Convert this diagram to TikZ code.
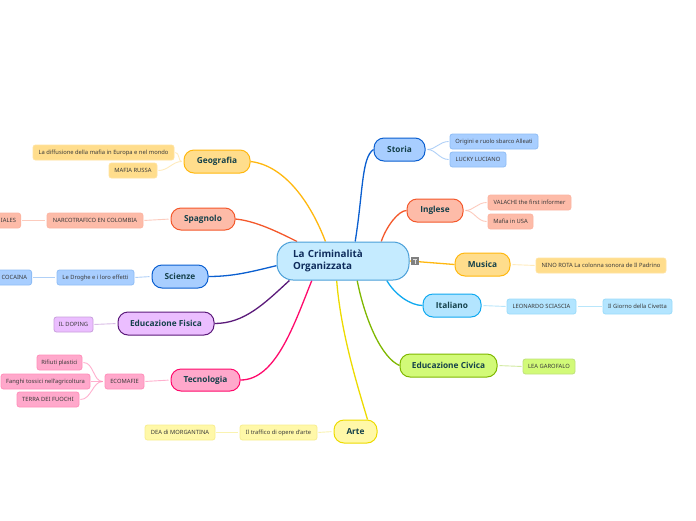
\documentclass[tikz,border=0pt]{standalone}
\usepackage{fontspec}
\setmainfont{Noto Sans}
\newfontfamily\bfam{Open Sans}
\usetikzlibrary{backgrounds}
\definecolor{ybf}{HTML}{FFDD8C}\definecolor{ybs}{HTML}{FFB80F}\definecolor{ybl}{HTML}{FFE3A0}
\definecolor{rdf}{HTML}{FDBBA8}\definecolor{rds}{HTML}{F4582B}\definecolor{rdl}{HTML}{FCB5A2}
\definecolor{blf}{HTML}{A8CEFF}\definecolor{bls}{HTML}{0A5FD0}\definecolor{bll}{HTML}{8FBDF5}
\definecolor{puf}{HTML}{EBBEFF}\definecolor{pus}{HTML}{5B1A7A}\definecolor{pul}{HTML}{C9A0DC}
\definecolor{pkf}{HTML}{FFA8CB}\definecolor{pks}{HTML}{FF0A6C}\definecolor{pkl}{HTML}{FF8FBA}
\definecolor{lyf}{HTML}{FFF8A8}\definecolor{lys}{HTML}{EDDB00}\definecolor{lyl}{HTML}{F8EE90}
\definecolor{cyf}{HTML}{B3E5FF}\definecolor{cys}{HTML}{0FA9F0}\definecolor{cyl}{HTML}{9BDCFA}
\definecolor{grf}{HTML}{D2FA78}\definecolor{grs}{HTML}{7FB800}\definecolor{grl}{HTML}{BFE27A}
\definecolor{cef}{HTML}{C5EBFF}\definecolor{ces}{HTML}{4A9FD8}
\definecolor{tmain}{HTML}{14404A}\definecolor{tcen}{HTML}{0F2C5C}\definecolor{tsub}{HTML}{3A3A3A}
\tikzset{
 x=1pt,y=-1pt,
 mainbox/.style={draw,line width=1pt,rounded corners=10pt,inner sep=0pt,font=\bfam\fontsize{8.3}{10}\selectfont\bfseries,text=tmain},
 subbox/.style={draw,line width=.8pt,rounded corners=2.5pt,inner sep=0pt,font=\fontsize{5.8}{7}\selectfont,text=tsub},
 cedge/.style={line width=1.3pt},
 sedge/.style={line width=.9pt,opacity=.7,shorten <=2pt,shorten >=1pt},
}
\newcommand{\bx}[7]{% name x1 y1 x2 y2 style text
 \pgfmathsetmacro{\bcx}{(#2+#4)/2}\pgfmathsetmacro{\bcy}{(#3+#5)/2}
 \pgfmathsetmacro{\bw}{#4-#2}\pgfmathsetmacro{\bh}{#5-#3}
 \node[#6,minimum width=\bw pt,minimum height=\bh pt] (#1) at (\bcx,\bcy) {#7};}
\begin{document}
\begin{tikzpicture}
\useasboundingbox (0,0) rectangle (696,520);
% central
\node[draw=ces,fill=cef,line width=1pt,rounded corners=16pt,inner sep=0pt,text width=100pt,minimum height=38pt,inner xsep=16pt,align=left,text=tcen,font=\bfam\fontsize{9.85}{12}\selectfont\bfseries] (central) at (343,261) {La Criminalità\\Organizzata};
% main
\bx{geo}{184}{150}{250}{173}{mainbox,draw=ybs,fill=ybf}{Geografia}
\bx{spa}{171}{208}{235}{230}{mainbox,draw=rds,fill=rdf}{Spagnolo}
\bx{sci}{152}{265}{208}{288}{mainbox,draw=bls,fill=blf}{Scienze}
\bx{edf}{118}{312}{214}{335}{mainbox,draw=pus,fill=puf}{Educazione Fisica}
\bx{tec}{171}{369}{240}{391}{mainbox,draw=pks,fill=pkf}{Tecnologia}
\bx{art}{334}{420}{377}{443}{mainbox,draw=lys,fill=lyf}{Arte}
\bx{sto}{374}{138}{425}{161}{mainbox,draw=bls,fill=blf}{Storia}
\bx{ing}{407}{199}{463}{222}{mainbox,draw=rds,fill=rdf}{Inglese}
\bx{mus}{455}{253}{510}{276}{mainbox,draw=ybs,fill=ybf}{Musica}
\bx{ita}{423}{294}{481}{317}{mainbox,draw=cys,fill=cyf}{Italiano}
\bx{edc}{400}{354}{497}{377}{mainbox,draw=grs,fill=grf}{Educazione Civica}
% sub
\bx{dif}{33}{145}{174}{160}{subbox,draw=ybl,fill=ybf}{La diffusione della mafia in Europa e nel mondo}
\bx{rus}{109}{163}{157}{178}{subbox,draw=ybl,fill=ybf}{MAFIA RUSSA}
\bx{nar}{47}{213}{143}{228}{subbox,draw=rdl,fill=rdf}{NARCOTRAFICO EN COLOMBIA}
\node[subbox,draw=rdl,fill=rdf,anchor=east,minimum height=15pt,text width=52pt,inner xsep=4.5pt,align=right] (ial) at (21,220.5) {IALES};
\bx{dro}{57}{270}{134}{285}{subbox,draw=bll,fill=blf}{Le Droghe e i loro effetti}
\node[subbox,draw=bll,fill=blf,anchor=east,minimum height=15pt,text width=52pt,inner xsep=4.5pt,align=right] (coc) at (32,277.5) {COCAINA};
\bx{dop}{54}{317}{93}{332}{subbox,draw=pul,fill=puf}{IL DOPING}
\bx{eco}{105}{374}{144}{389}{subbox,draw=pkl,fill=pkf}{ECOMAFIE}
\bx{rif}{37}{355}{82}{370}{subbox,draw=pkl,fill=pkf}{Rifiuti plastici}
\bx{fan}{1}{374}{90}{389}{subbox,draw=pkl,fill=pkf}{Fanghi tossici nell'agricoltura}
\bx{ter}{17}{392}{79}{407}{subbox,draw=pkl,fill=pkf}{TERRA DEI FUOCHI}
\bx{dea}{145}{425}{215}{440}{subbox,draw=lyl,fill=lyf}{DEA di MORGANTINA}
\bx{tra}{240}{425}{317}{440}{subbox,draw=lyl,fill=lyf}{Il traffico di opere d'arte}
\bx{ori}{450}{134}{538}{149}{subbox,draw=bll,fill=blf}{Origini e ruolo sbarco Alleati}
\bx{luc}{450}{152}{506}{167}{subbox,draw=bll,fill=blf}{LUCKY LUCIANO}
\bx{val}{488}{195}{571}{210}{subbox,draw=rdl,fill=rdf}{VALACHI the first informer}
\bx{usa}{488}{214}{533}{229}{subbox,draw=rdl,fill=rdf}{Mafia in USA}
\bx{nin}{536}{258}{666}{273}{subbox,draw=ybl,fill=ybf}{NINO ROTA La colonna sonora de Il Padrino}
\bx{leo}{507}{299}{576}{314}{subbox,draw=cyl,fill=cyf}{LEONARDO SCIASCIA}
\bx{gio}{603}{299}{672}{314}{subbox,draw=cyl,fill=cyf}{Il Giorno della Civetta}
\bx{lea}{523}{359}{575}{374}{subbox,draw=grl,fill=grf}{LEA GAROFALO}
% connectors
\begin{scope}[on background layer]
\fill[white] (0,0) rectangle (696,520);
\draw[cedge,ybs] (geo.east) .. controls +(35,4) and +(-14,-37) .. (central.132);
\draw[cedge,rds] (spa.east) .. controls +(20,2) and +(-20,-10) .. (central.157);
\draw[cedge,bls] (sci.east) .. controls +(25,0) and +(-25,6) .. (central.184);
\draw[cedge,pus] (edf.east) .. controls +(30,0) and +(-25,23) .. (central.200);
\draw[cedge,pks] (tec.east) .. controls +(35,0) and +(-18,45) .. (central.212);
\draw[cedge,lys] (central.252) .. controls +(4,50) and +(-12,-40) .. (art.45);
\draw[cedge,grs] (central.-54) .. controls +(8,40) and +(-18,-8) .. (edc.west);
\draw[cedge,cys] (central.-24) .. controls +(8,14) and +(-12,0) .. (ita.west);
\draw[cedge,ybs] (central.east) -- (mus.west);
\draw[cedge,rds] (central.27) .. controls +(5,-15) and +(-8,0) .. (ing.west);
\draw[cedge,bls] (central.58) .. controls +(8,-50) and +(-12,8) .. (sto.west);
\draw[sedge,ybl] (geo.west) to[out=180,in=0] (dif.east);
\draw[sedge,ybl] (geo.west) to[out=180,in=0] (rus.east);
\draw[sedge,rdl] (spa.west) -- (nar.east);
\draw[sedge,rdl] (nar.west) -- (ial.east);
\draw[sedge,bll] (sci.west) -- (dro.east);
\draw[sedge,bll] (dro.west) -- (coc.east);
\draw[sedge,pul] (edf.west) -- (dop.east);
\draw[sedge,pkl] (tec.west) -- (eco.east);
\draw[sedge,pkl] (eco.west) to[out=180,in=0] (rif.east);
\draw[sedge,pkl] (eco.west) -- (fan.east);
\draw[sedge,pkl] (eco.west) to[out=180,in=0] (ter.east);
\draw[sedge,lyl] (art.west) -- (tra.east);
\draw[sedge,lyl] (tra.west) -- (dea.east);
\draw[sedge,bll] (sto.east) to[out=0,in=180] (ori.west);
\draw[sedge,bll] (sto.east) to[out=0,in=180] (luc.west);
\draw[sedge,rdl] (ing.east) to[out=0,in=180] (val.west);
\draw[sedge,rdl] (ing.east) to[out=0,in=180] (usa.west);
\draw[sedge,ybl] (mus.east) -- (nin.west);
\draw[sedge,cyl] (ita.east) -- (leo.west);
\draw[sedge,cyl] (leo.east) -- (gio.west);
\draw[sedge,grl] (edc.east) -- (lea.west);
\end{scope}
% note icon
\fill[gray] (411,257) rectangle (419,265);
\draw[white!75!gray,line width=.7pt] (413,259.2) -- (417,259.2) (415,259.2) -- (415,263.5);
\end{tikzpicture}
\end{document}
